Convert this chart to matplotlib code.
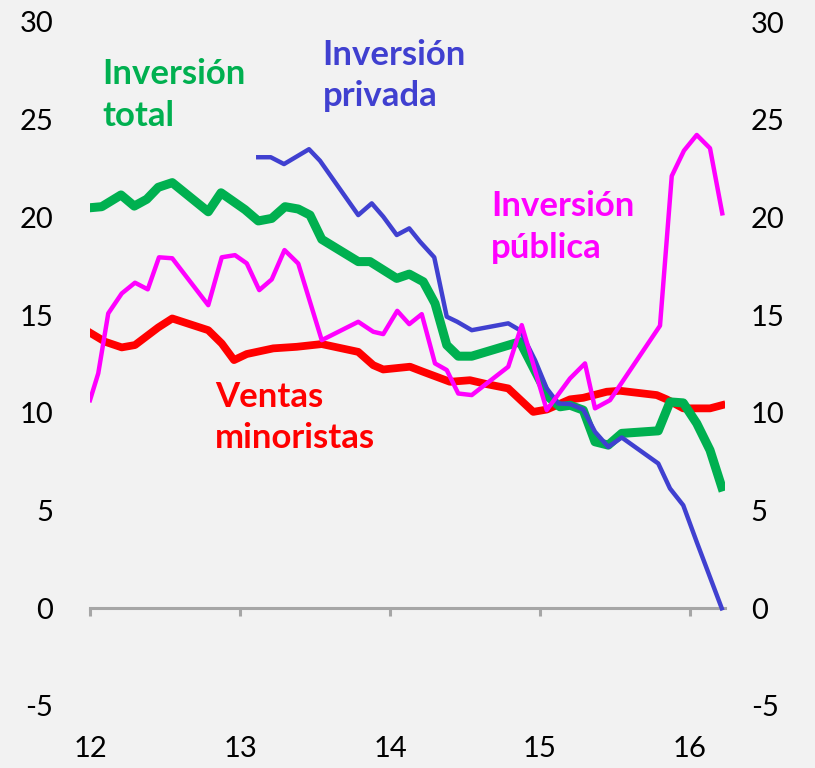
"""China: inversion y ventas minoristas (% a/a)."""
import matplotlib.pyplot as plt

plt.rcParams["font.family"] = ["Lato", "DejaVu Sans"]
plt.rcParams["axes.unicode_minus"] = False

# x = months since Jan 2012
total_m = [0.08, 0.94, 2.48, 3.54, 4.54, 5.46, 6.58, 9.46, 10.48, 12.4, 13.46, 14.54,
           15.6, 16.66, 17.6, 18.54, 21.46, 22.4, 24.54, 25.54, 26.66, 27.6, 28.54,
           29.46, 30.54, 34.4, 36.66, 37.6, 38.4, 39.46, 40.4, 41.46, 42.54, 45.46,
           46.4, 47.46, 48.54, 49.6, 50.54]
total_v = [20.50, 20.55, 21.15, 20.58, 20.93, 21.54, 21.78, 20.29, 21.26, 20.40, 19.82,
           19.95, 20.55, 20.43, 20.12, 18.88, 17.74, 17.74, 16.88, 17.10, 16.71, 15.60,
           13.47, 12.90, 12.90, 13.64, 10.82, 10.31, 10.39, 10.14, 8.52, 8.35, 8.95,
           9.08, 10.56, 10.51, 9.46, 8.09, 6.21]

ventas_m = [0.08, 1.2, 2.54, 3.6, 5.46, 6.58, 9.46, 10.54, 11.52, 12.54, 14.66, 16.54,
            18.54, 21.46, 22.66, 23.46, 25.6, 26.66, 28.8, 30.4, 31.74, 33.46, 35.46,
            36.54, 38.4, 39.46, 41.34, 42.4, 45.34, 46.14, 47.46, 49.6, 50.54]
ventas_v = [14.07, 13.64, 13.35, 13.47, 14.37, 14.83, 14.23, 13.55, 12.70, 13.01, 13.30,
            13.38, 13.52, 13.12, 12.44, 12.22, 12.36, 12.10, 11.59, 11.67, 11.47, 11.25,
            10.05, 10.17, 10.69, 10.77, 11.08, 11.13, 10.91, 10.69, 10.23, 10.23, 10.39]

publica_m = [0.0, 0.66, 1.46, 2.54, 3.6, 4.62, 5.52, 6.58, 9.46, 10.54, 11.6, 12.54,
             13.54, 14.54, 15.56, 16.66, 18.54, 21.46, 22.66, 23.46, 24.58, 25.54, 26.54,
             27.6, 28.54, 29.46, 30.54, 33.46, 34.54, 36.54, 38.4, 39.6, 40.4, 41.6,
             45.6, 46.54, 47.52, 48.54, 49.6, 50.58]
publica_v = [10.65, 12.02, 15.09, 16.11, 16.66, 16.32, 17.96, 17.91, 15.51, 17.96, 18.07,
             17.65, 16.28, 16.83, 18.33, 17.64, 13.72, 14.66, 14.15, 14.03, 15.22, 14.54,
             15.05, 12.53, 12.19, 10.99, 10.91, 12.36, 14.49, 10.14, 11.76, 12.53, 10.23,
             10.65, 14.46, 22.12, 23.42, 24.22, 23.54, 20.21]

privada_m = [13.46, 14.46, 15.52, 17.52, 18.4, 21.46, 22.54, 23.46, 24.54, 25.54, 26.4,
             27.54, 28.54, 29.38, 30.54, 33.46, 34.4, 35.6, 36.54, 37.46, 38.4, 39.46,
             40.4, 41.46, 42.54, 45.46, 46.4, 47.46, 48.54, 50.54]
privada_v = [23.08, 23.08, 22.73, 23.49, 22.90, 20.12, 20.72, 20.04, 19.10, 19.44, 18.76,
             17.96, 14.92, 14.66, 14.23, 14.58, 14.23, 12.70, 11.25, 10.48, 10.45, 10.17,
             9.03, 8.26, 8.74, 7.41, 6.13, 5.27, 3.39, 0.0]

year_ticks = [0, 12, 24, 36, 48]
year_labels = ["12", "13", "14", "15", "16"]

bg = "#F2F2F2"
green = "#00B050"
red = "#FF0000"
magenta = "#FF00FF"
blue = "#4040D0"

fig = plt.figure(figsize=(8.15, 7.68), dpi=100)
fig.patch.set_facecolor(bg)
ax = fig.add_axes([90 / 815, 62 / 768, 635 / 815, 684 / 768])
ax.set_facecolor(bg)

# right-hand labels, same scale
ax2 = ax.twinx()

ax.plot(ventas_m, ventas_v, color=red, lw=5.6, solid_joinstyle="round", zorder=3)
ax.plot(total_m, total_v, color=green, lw=6.5, solid_joinstyle="round", zorder=4)
ax.plot(privada_m, privada_v, color=blue, lw=3.2, solid_joinstyle="round", zorder=5)
ax.plot(publica_m, publica_v, color=magenta, lw=3.2, solid_joinstyle="round", zorder=6)

lab = dict(fontsize=25, fontweight="bold", va="top", ha="left", linespacing=1.38)
ax.text(1.0, 28.15, "Inversión\ntotal", color=green, **lab)
ax.text(18.6, 29.15, "Inversión\nprivada", color=blue, **lab)
ax.text(32.1, 21.4, "Inversión\npública", color=magenta, **lab)
ax.text(10.0, 11.65, "Ventas\nminoristas", color=red, **lab)

ax.set_xlim(0, 50.8)
ax.set_ylim(-5, 30)
ax.set_yticks(range(-5, 31, 5))
ax.set_xticks(year_ticks)
ax.set_xticklabels(year_labels)

for s in ["top", "left", "right"]:
    ax.spines[s].set_visible(False)
ax.spines["bottom"].set_position(("data", 0))
ax.spines["bottom"].set_color("#A6A6A6")
ax.spines["bottom"].set_linewidth(2.2)

ax.tick_params(axis="x", direction="out", length=6, width=2.2, color="#A6A6A6",
               labelsize=21, pad=86)
ax.tick_params(axis="y", left=False, right=False, labelright=False,
               labelsize=21, pad=23)

ax2.set_ylim(ax.get_ylim())
ax2.set_yticks(range(-5, 31, 5))
ax2.tick_params(axis="y", left=False, right=False, labelleft=False,
                labelsize=21, pad=15)
for s in ax2.spines.values():
    s.set_visible(False)

plt.savefig("out.png", dpi=100, facecolor=bg)
plt.close()
